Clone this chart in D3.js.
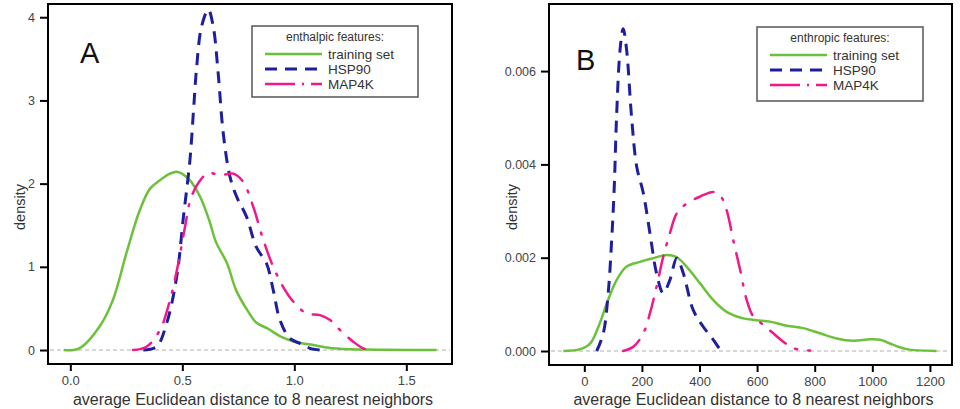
<!DOCTYPE html>
<html><head><meta charset="utf-8">
<script src="https://cdn.jsdelivr.net/npm/d3@7"></script>
<style>
html,body{margin:0;padding:0;background:#fff;}
svg{display:block;font-family:"Liberation Sans",Arial,Helvetica,sans-serif;}
</style></head>
<body>
<svg id="chart" width="960" height="409"></svg>
<script>
// ---------- DATA ----------
const seriesNames = ["training set", "HSP90", "MAP4K"];
const legendTitles = ["enthalpic features:", "enthropic features:"];
const panelLabels = ["A", "B"];
const xTitle = "average Euclidean distance to 8 nearest neighbors";
const yTitle = "density";

const xTicksA = [0.0, 0.5, 1.0, 1.5];
const yTicksA = [0, 1, 2, 3, 4];
const xTicksB = [0, 200, 400, 600, 800, 1000, 1200];
const yTicksB = [0.000, 0.002, 0.004, 0.006];

// Panel A (enthalpic)
const trainA = [[-0.03,0],[0.04,0.02],[0.13,0.28],[0.19,0.6],[0.25,1.16],[0.31,1.68],[0.356,1.94],[0.40,2.04],[0.445,2.12],[0.48,2.14],[0.534,2.04],[0.58,1.84],[0.62,1.56],[0.65,1.30],[0.70,1.04],[0.74,0.72],[0.79,0.48],[0.83,0.33],[0.88,0.26],[0.94,0.16],[1.0,0.10],[1.085,0.06],[1.17,0.02],[1.32,0.005],[1.635,0]];
const hspA = [[0.326,0],[0.385,0.04],[0.43,0.32],[0.475,0.88],[0.505,1.6],[0.534,2.28],[0.55,2.88],[0.564,3.4],[0.586,3.89],[0.616,4.09],[0.638,3.89],[0.66,3.33],[0.683,2.6],[0.713,2.08],[0.743,1.84],[0.787,1.6],[0.83,1.24],[0.876,1.04],[0.906,0.72],[0.936,0.36],[0.98,0.14],[1.025,0.08],[1.07,0.02],[1.115,0]];
const mapA = [[0.28,0],[0.34,0.04],[0.40,0.24],[0.445,0.6],[0.482,1.04],[0.512,1.48],[0.54,1.84],[0.58,2.04],[0.616,2.13],[0.668,2.10],[0.728,2.12],[0.772,2.02],[0.817,1.72],[0.862,1.32],[0.906,1.0],[0.95,0.76],[0.996,0.58],[1.055,0.44],[1.115,0.42],[1.16,0.36],[1.204,0.24],[1.263,0.1],[1.308,0.02],[1.345,0]];

// Panel B (enthropic)
const trainB = [[-73,0],[-15,0.00004],[20,0.00016],[49,0.00052],[78,0.00102],[112,0.00152],[147,0.00181],[193,0.00191],[240,0.00199],[286,0.00206],[321,0.00201],[355,0.00181],[402,0.00145],[448,0.00109],[494,0.00084],[552,0.0007],[598,0.00066],[645,0.00063],[703,0.00054],[760,0.00049],[818,0.00038],[876,0.00027],[934,0.00022],[992,0.00025],[1027,0.00024],[1073,0.00013],[1119,0.00004],[1223,0]];
const hspB = [[43,0],[66,0.00038],[83,0.00124],[95,0.00238],[104,0.00352],[112,0.00502],[124,0.00645],[135,0.00691],[147,0.00645],[164,0.00502],[182,0.00395],[205,0.00338],[228,0.00252],[251,0.00166],[274,0.00124],[297,0.00152],[321,0.00199],[344,0.00166],[378,0.00088],[413,0.00052],[448,0.00024],[471,0.00004],[478,0]];
const mapB = [[135,0],[170,0.00009],[205,0.00038],[228,0.00081],[251,0.00138],[274,0.00202],[297,0.00252],[321,0.00295],[355,0.00316],[402,0.00331],[448,0.00341],[471,0.00334],[494,0.00302],[517,0.00238],[541,0.00174],[564,0.00109],[587,0.00074],[622,0.00056],[656,0.00038],[691,0.0002],[726,0.00006],[784,0.00001]];

// ---------- STYLE ----------
const colors = ["#6cc13a", "#1f1f9e", "#f0188a"];
const widths = [2.5, 3, 2.5];
const dashes = [null, "12,8", "20,11,2,11"];

const svg = d3.select("#chart");

const panels = [
  {box:[48,4,452,364], xd:[-0.0996,1.704], yd:[-0.168,4.159], xt:xTicksA, yt:yTicksA,
   xf:d3.format(".1f"), yf:d3.format("d"), series:[trainA,hspA,mapA],
   legend:{x:252,y:26,w:166,h:71,title:legendTitles[0]}, label:panelLabels[0], labelPos:[80,63], yTitleX:20},
  {box:[549,4,952,365], xd:[-122.6,1276.7], yd:[-0.0003,0.007438], xt:xTicksB, yt:yTicksB,
   xf:d3.format("d"), yf:d3.format(".3f"), series:[trainB,hspB,mapB],
   legend:{x:757,y:27,w:166,h:74,title:legendTitles[1]}, label:panelLabels[1], labelPos:[576,70], yTitleX:512}
];

panels.forEach(p => {
  const [x0,y0,x1,y1] = p.box;
  const x = d3.scaleLinear().domain(p.xd).range([x0,x1]);
  const y = d3.scaleLinear().domain(p.yd).range([y1,y0]);
  const g = svg.append("g");

  // zero reference line
  g.append("line").attr("x1",x0+2).attr("x2",x1-2).attr("y1",y(0)).attr("y2",y(0))
    .attr("stroke","#b0b0b0").attr("stroke-width",1).attr("stroke-dasharray","4,3");

  const line = d3.line().x(d=>x(d[0])).y(d=>y(d[1])).curve(d3.curveCatmullRom.alpha(0.5));
  p.series.forEach((s,i) => {
    g.append("path").datum(s).attr("d",line).attr("fill","none")
      .attr("stroke",colors[i]).attr("stroke-width",widths[i])
      .attr("stroke-dasharray",dashes[i]).attr("stroke-linecap", i===2 ? "round" : "butt")
      .attr("stroke-linejoin","round");
  });

  // box
  g.append("rect").attr("x",x0).attr("y",y0).attr("width",x1-x0).attr("height",y1-y0)
    .attr("fill","none").attr("stroke","#000").attr("stroke-width",2);

  // axes
  const xa = d3.axisBottom(x).tickValues(p.xt).tickFormat(p.xf).tickSize(7).tickPadding(5);
  const gx = g.append("g").attr("transform",`translate(0,${y1})`).call(xa);
  gx.select(".domain").remove();
  gx.selectAll(".tick line").attr("stroke","#000").attr("stroke-width",2);
  gx.selectAll(".tick text").attr("fill","#444").style("font-size","13px").style("font-family","Liberation Sans, Arial, sans-serif");

  const ya = d3.axisLeft(y).tickValues(p.yt).tickFormat(p.yf).tickSize(8).tickPadding(5);
  const gy = g.append("g").attr("transform",`translate(${x0},0)`).call(ya);
  gy.select(".domain").remove();
  gy.selectAll(".tick line").attr("stroke","#000").attr("stroke-width",2);
  gy.selectAll(".tick text").attr("fill","#444").style("font-size","12.5px").style("font-family","Liberation Sans, Arial, sans-serif");

  // titles
  g.append("text").attr("x",(x0+x1)/2 + 3).attr("y",404.5).attr("text-anchor","middle")
    .attr("fill","#333").style("font-size","16px").text(xTitle);
  g.append("text").attr("transform",`translate(${p.yTitleX+5},207) rotate(-90)`).attr("text-anchor","middle")
    .attr("fill","#333").style("font-size","14.5px").text(yTitle);

  // panel label
  g.append("text").attr("x",p.labelPos[0]).attr("y",p.labelPos[1]).attr("fill","#111")
    .style("font-size","29px").text(p.label);

  // legend
  const L = p.legend;
  const lg = g.append("g");
  lg.append("rect").attr("x",L.x).attr("y",L.y).attr("width",L.w).attr("height",L.h)
    .attr("fill","#fff").attr("stroke","#555").attr("stroke-width",1.5);
  lg.append("text").attr("x",L.x+L.w/2).attr("y",L.y+15).attr("text-anchor","middle")
    .attr("fill","#333").style("font-size","12px").text(L.title);
  seriesNames.forEach((n,i) => {
    const ry = L.y + 28 + i*15;
    lg.append("line").attr("x1",L.x+13).attr("x2",L.x+70).attr("y1",ry).attr("y2",ry)
      .attr("stroke",colors[i]).attr("stroke-width",widths[i])
      .attr("stroke-dasharray", i===2 ? "30,7,2,7" : dashes[i]).attr("stroke-linecap","butt");
    lg.append("text").attr("x",L.x+76).attr("y",ry+4.5).attr("fill","#333")
      .style("font-size","13.5px").text(n);
  });
});
</script>
</body></html>
